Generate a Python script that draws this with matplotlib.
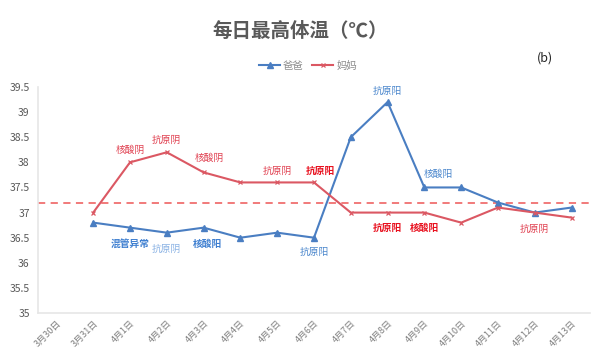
import matplotlib
matplotlib.use("Agg")
import matplotlib.pyplot as plt
from matplotlib.lines import Line2D

plt.rcParams['font.family'] = ['Noto Sans CJK SC', 'DejaVu Sans']

dates = ["3月30日", "3月31日", "4月1日", "4月2日", "4月3日", "4月4日", "4月5日", "4月6日",
         "4月7日", "4月8日", "4月9日", "4月10日", "4月11日", "4月12日", "4月13日"]
data_start = 1  # series start at 3月31日
dad = [36.8, 36.7, 36.6, 36.7, 36.5, 36.6, 36.5, 38.5, 39.2, 37.5, 37.5, 37.2, 37.0, 37.1]
mom = [37.0, 38.0, 38.2, 37.8, 37.6, 37.6, 37.6, 37.0, 37.0, 37.0, 36.8, 37.1, 37.0, 36.9]
threshold = 37.2
yticks = [35, 35.5, 36, 36.5, 37, 37.5, 38, 38.5, 39, 39.5]

# annotations: (series, date index, text, style, dx px, dy px)
annotations = [
    ("mom", 2, "核酸阴", "red", 0, 12),
    ("mom", 3, "抗原阴", "red", 0, 12),
    ("mom", 4, "核酸阴", "red", 6, 15),
    ("mom", 6, "抗原阴", "red", 0, 12),
    ("mom", 7, "抗原阳", "redbold", 6, 12),
    ("mom", 9, "抗原阳", "redbold", 0, -15),
    ("mom", 10, "核酸阳", "redbold", 0, -15),
    ("mom", 13, "抗原阴", "red", 0, -16),
    ("dad", 2, "混管异常", "bluebold", 0, -16),
    ("dad", 3, "抗原阴", "bluelight", 0, -16),
    ("dad", 4, "核酸阳", "bluebold", 4, -16),
    ("dad", 7, "抗原阳", "blue", 0, -14),
    ("dad", 9, "抗原阳", "blue", 0, 11),
    ("dad", 10, "核酸阳", "blue", 14, 14),
]

BLUE = "#4A7EC2"
RED = "#DB5863"
styles = {
    "red": dict(color="#E04050", fontweight="normal"),
    "redbold": dict(color="#E8101E", fontweight="bold"),
    "blue": dict(color="#4A86CC", fontweight="normal"),
    "bluebold": dict(color="#3E7FD0", fontweight="bold"),
    "bluelight": dict(color="#8AB2E4", fontweight="normal"),
}

fig = plt.figure(figsize=(6.16, 3.64), dpi=100)
ax = fig.add_axes([0.0617, 0.140, 0.896, 0.621])

xs = list(range(data_start, data_start + len(dad)))
ax.plot(xs, dad, color=BLUE, lw=1.5, marker="^", ms=4.5, zorder=3)
ax.plot(xs, mom, color=RED, lw=1.5, marker="x", ms=3.5, mew=0.9, zorder=3)
ax.axhline(threshold, color="#F07070", lw=1.3, ls=(0, (4, 3)), zorder=2)

series = {"dad": dad, "mom": mom}
for s, idx, txt, st, dx, dy in annotations:
    val = series[s][idx - data_start]
    ax.annotate(txt, xy=(idx, val), xytext=(dx, dy), textcoords="offset pixels",
                ha="center", va="center", fontsize=7, **styles[st])

ax.set_xlim(-0.5, len(dates) - 0.5)
ax.set_ylim(35, 39.5)
ax.set_yticks(yticks)
ax.set_yticklabels([f"{v:g}" for v in yticks])
ax.set_xticks(range(len(dates)))
ax.set_xticklabels(dates, rotation=45, ha="right", rotation_mode="anchor")
ax.tick_params(axis="y", length=0, labelsize=7.5, labelcolor="#595959", pad=6)
ax.tick_params(axis="x", length=0, labelsize=6.5, labelcolor="#7F7F7F", pad=4)
for sp in ["top", "right"]:
    ax.spines[sp].set_visible(False)
for sp in ["left", "bottom"]:
    ax.spines[sp].set_color("#E6E6E6")
    ax.spines[sp].set_linewidth(1.2)

fig.text(0.487, 0.915, "每日最高体温（℃）", ha="center", va="center",
         fontsize=14, fontweight="bold", color="#595959")
fig.text(0.885, 0.84, "(b)", ha="center", va="center", fontsize=9, color="#222222")

handles = [Line2D([], [], color=BLUE, lw=1.5, marker="^", ms=4.5),
           Line2D([], [], color=RED, lw=1.5, marker="x", ms=3.5, mew=0.9)]
fig.legend(handles, ["爸爸", "妈妈"], loc="center", bbox_to_anchor=(0.50, 0.82),
           ncol=2, frameon=False, fontsize=7.5, labelcolor="#8C8C8C",
           handlelength=2.0, columnspacing=0.8, handletextpad=0.3)

fig.savefig("out.png", dpi=100)
